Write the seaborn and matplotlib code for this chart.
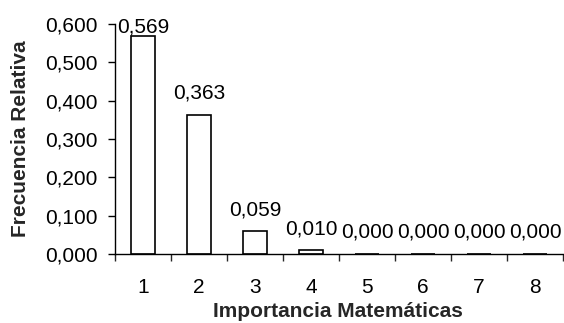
import matplotlib
matplotlib.use("Agg")
import matplotlib.pyplot as plt
import seaborn as sns
import numpy as np
import pandas as pd
from matplotlib.ticker import FuncFormatter, FixedLocator

# Relative frequency of each importance rating
categories = ["1", "2", "3", "4", "5", "6", "7", "8"]
values = [0.569, 0.363, 0.059, 0.010, 0.000, 0.000, 0.000, 0.000]
y_ticks = [0.0, 0.1, 0.2, 0.3, 0.4, 0.5, 0.6]

sns.set_style("white")
plt.rcParams["font.family"] = ["Liberation Sans", "DejaVu Sans"]

def comma(v):
    return f"{v:.3f}".replace(".", ",")

df = pd.DataFrame({"Importancia": categories, "Frecuencia": values})

dpi = 100
fig = plt.figure(figsize=(5.64, 3.23), dpi=dpi)
ax = fig.add_axes([115 / 564, 1 - 254 / 323, 448 / 564, 230 / 323])

fs = 15
sns.barplot(data=df, x="Importancia", y="Frecuencia", order=categories,
            color="white", saturation=1, edgecolor="black", linewidth=1.2,
            width=0.42, ax=ax)

ax.set_xlim(-0.5, len(categories) - 0.5)
ax.set_ylim(0, 0.6)

# Value labels above each bar
for i, v in enumerate(values):
    ax.text(i, min(v + 0.042, 0.577), comma(v), ha="center", va="baseline",
            fontsize=fs, color="black", clip_on=False)

# Axes styling
for s in ["top", "right"]:
    ax.spines[s].set_visible(False)
for s in ["left", "bottom"]:
    ax.spines[s].set_linewidth(1.0)
    ax.spines[s].set_color("black")

ax.yaxis.set_major_locator(FixedLocator(y_ticks))
ax.yaxis.set_major_formatter(FuncFormatter(lambda v, p: comma(v)))
ax.tick_params(axis="y", which="major", direction="out", length=5, width=1.0,
               pad=7.5, labelsize=fs, colors="black", left=True)

ax.set_xticks(np.arange(-0.5, len(categories), 1.0), minor=True)
ax.tick_params(axis="x", which="minor", direction="out", length=5, width=1.0,
               bottom=True)
ax.tick_params(axis="x", which="major", length=0, pad=17, labelsize=fs,
               colors="black")

ax.set_xlabel("Importancia Matemáticas", fontsize=fs, fontweight="bold")
ax.set_ylabel("Frecuencia Relativa", fontsize=fs, fontweight="bold")
ax.xaxis.set_label_coords(0.497, -0.21)
ax.yaxis.set_label_coords(-0.19, 0.5)

fig.savefig("out.png", dpi=dpi)
